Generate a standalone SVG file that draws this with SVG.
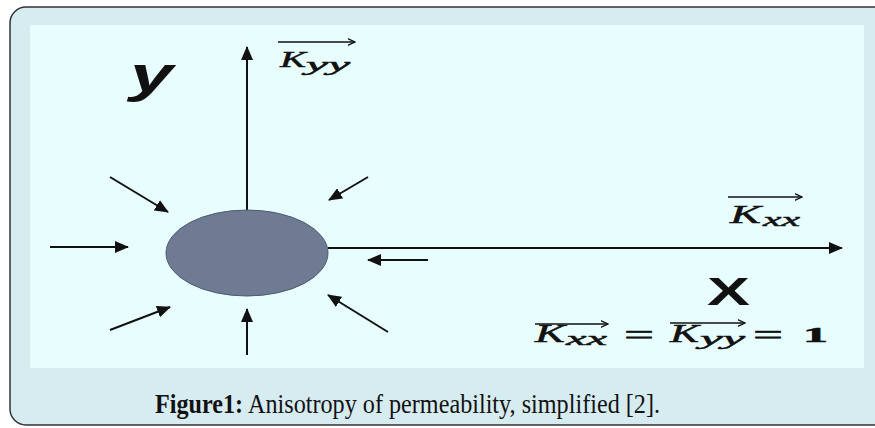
<svg xmlns="http://www.w3.org/2000/svg" width="875" height="428" viewBox="0 0 875 428">
  <defs>
    <marker id="ah" viewBox="0 0 14 12" refX="13" refY="6" markerWidth="14" markerHeight="12" markerUnits="userSpaceOnUse" orient="auto">
      <path d="M0,0 L14,6 L0,12 z" fill="#111"/>
    </marker>
    <marker id="vec" viewBox="0 0 8 8" refX="7.5" refY="4" markerWidth="8" markerHeight="8" markerUnits="userSpaceOnUse" orient="auto">
      <path d="M0,0.5 L7.5,4 L0,7.5" fill="none" stroke="#111" stroke-width="1.3"/>
    </marker>
    <style>
      .arr { stroke:#111; stroke-width:2; fill:none; marker-end:url(#ah); }
      .vecl { stroke:#111; stroke-width:1.6; fill:none; marker-end:url(#vec); }
      .math { font-family:"Liberation Serif","DejaVu Serif",serif; font-style:italic; fill:#111; stroke:#111; stroke-width:0.5; }
      .sym { font-family:"Liberation Serif","DejaVu Serif",serif; fill:#111; stroke:#111; stroke-width:0.6; }
      .axis { font-family:"Liberation Sans","DejaVu Sans",sans-serif; font-weight:bold; fill:#111; }
      .cap { font-family:"Liberation Serif","DejaVu Serif",serif; font-size:27px; fill:#111; }
    </style>
  </defs>

  <rect x="0" y="0" width="875" height="428" fill="#ffffff"/>
  <g id="frame">
    <rect x="10" y="7" width="880" height="418" rx="16" ry="16" fill="#d7ecf1" stroke="#333" stroke-width="1.5"/>
    <rect x="30" y="25" width="834" height="343" fill="#e8fefe"/>
  </g>

  <g id="connectors">
    <line class="arr" x1="247" y1="210" x2="247" y2="47"/>
    <line class="arr" x1="328" y1="248" x2="842" y2="248"/>
    <line class="arr" x1="110" y1="177" x2="168" y2="212"/>
    <line class="arr" x1="368" y1="177" x2="329" y2="200"/>
    <line class="arr" x1="50" y1="247" x2="128" y2="247"/>
    <line class="arr" x1="428" y1="260" x2="368" y2="260"/>
    <line class="arr" x1="110" y1="330" x2="170" y2="307"/>
    <line class="arr" x1="247" y1="355" x2="247" y2="309"/>
    <line class="arr" x1="388" y1="332" x2="328" y2="295"/>
  </g>

  <g id="particle">
    <ellipse cx="247" cy="253" rx="81" ry="43" fill="#6e7b92" stroke="#4e5a70" stroke-width="1"/>
  </g>

  <g id="label-y">
    <text class="axis" x="0" y="0" font-size="50" font-style="italic" transform="translate(130,92) scale(1.55,1)">y</text>
  </g>

  <g id="label-Kyy">
    <line class="vecl" x1="278" y1="42" x2="355" y2="42"/>
    <text class="math" x="280" y="67" font-size="24" textLength="26" lengthAdjust="spacingAndGlyphs">K</text>
    <text class="math" x="306" y="71" font-size="18" textLength="44" lengthAdjust="spacingAndGlyphs">yy</text>
  </g>

  <g id="label-Kxx">
    <line class="vecl" x1="728" y1="197" x2="802" y2="197"/>
    <text class="math" x="730" y="223" font-size="26" textLength="31" lengthAdjust="spacingAndGlyphs">K</text>
    <text class="math" x="763" y="226" font-size="19" textLength="37" lengthAdjust="spacingAndGlyphs">xx</text>
  </g>

  <g id="label-X">
    <text class="axis" x="0" y="0" font-size="39" transform="translate(707,305) scale(1.65,1)">X</text>
  </g>

  <g id="equation">
    <line class="vecl" x1="535" y1="324" x2="608" y2="324"/>
    <line class="vecl" x1="670" y1="323" x2="745" y2="323"/>
    <text class="math" x="535" y="342" font-size="26" textLength="30" lengthAdjust="spacingAndGlyphs">K</text>
    <text class="math" x="566" y="345" font-size="19" textLength="41" lengthAdjust="spacingAndGlyphs">xx</text>
    <text class="sym" x="624" y="344" font-size="28" textLength="30" lengthAdjust="spacingAndGlyphs">=</text>
    <text class="math" x="670" y="342" font-size="26" textLength="29" lengthAdjust="spacingAndGlyphs">K</text>
    <text class="math" x="700" y="345" font-size="19" textLength="45" lengthAdjust="spacingAndGlyphs">yy</text>
    <text class="sym" x="753" y="344" font-size="28" textLength="30" lengthAdjust="spacingAndGlyphs">=</text>
    <text class="sym" x="803" y="342" font-size="22" font-weight="bold" textLength="25" lengthAdjust="spacingAndGlyphs">1</text>
  </g>

  <g id="caption">
    <text class="cap" x="155" y="413" font-weight="bold" textLength="88" lengthAdjust="spacingAndGlyphs">Figure1:</text>
    <text class="cap" x="248" y="413" textLength="412" lengthAdjust="spacingAndGlyphs">Anisotropy of permeability, simplified [2].</text>
  </g>
</svg>
